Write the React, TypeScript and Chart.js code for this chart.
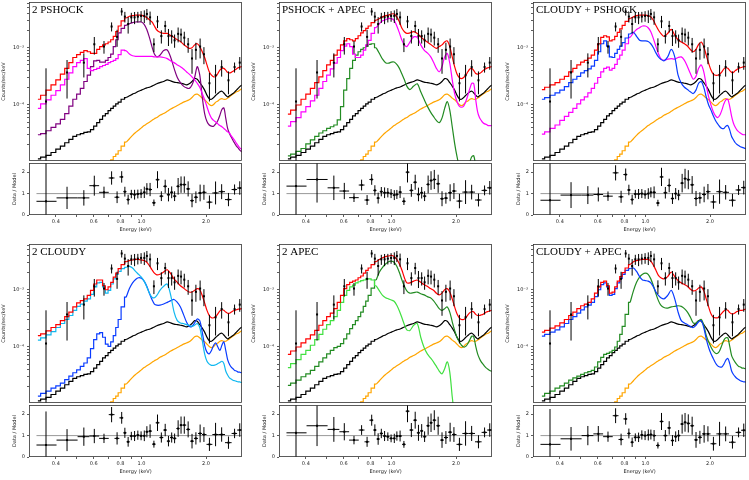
import { useEffect, useRef } from "react";
import { Chart, registerables } from "chart.js";

Chart.register(...registerables);

// energy grid of the folded model histograms (keV)
const modelEnergy = [
  0.33, 0.35, 0.37, 0.39, 0.41, 0.43, 0.45, 0.47, 0.49, 0.51, 0.53, 0.55, 0.57, 0.59, 0.61, 0.63, 0.65, 0.67, 0.69, 0.71, 0.73, 0.75, 0.77, 0.79,
  0.82, 0.85, 0.88, 0.91, 0.94, 0.97, 1.0, 1.03, 1.06, 1.09, 1.12, 1.15, 1.18,
  1.22, 1.27, 1.32, 1.37, 1.42, 1.47, 1.52, 1.57, 1.62, 1.67, 1.72, 1.77, 1.82, 1.87, 1.92, 1.97, 2.02, 2.07, 2.12, 2.17, 2.22, 2.27, 2.32, 2.37, 2.42, 2.47, 2.52, 2.57, 2.62, 2.67, 2.72, 2.77, 2.82, 2.87, 2.92, 2.96,
];
// below this energy the histogram bins are wide enough to show as steps
const STEP_LIMIT = 0.85;

// model curves, log10(counts/sec/keV)
const blackModel = [
  -4.94, -4.91, -4.88, -4.83, -4.77, -4.72, -4.66, -4.6, -4.55, -4.52, -4.5, -4.48, -4.47, -4.43, -4.37, -4.31, -4.25, -4.19, -4.15, -4.1, -4.06, -4.02, -3.98, -3.95,
  -3.9, -3.87, -3.84, -3.81, -3.79, -3.76, -3.74, -3.72, -3.7, -3.69, -3.67, -3.65, -3.63,
  -3.61, -3.59, -3.56, -3.58, -3.6, -3.61, -3.62, -3.63, -3.65, -3.63, -3.59, -3.54, -3.55, -3.61, -3.67, -3.74, -3.83, -3.89, -3.9, -3.87, -3.83, -3.8, -3.77, -3.76, -3.79, -3.83, -3.86, -3.84, -3.82, -3.8, -3.77, -3.74, -3.71, -3.68, -3.66, -3.65,
];
const orangeModel = [
  null, null, null, null, null, null, null, null, null, null, null, null, null, null, null, null, -5.22, -5.15, -5.08, -5.02, -4.96, -4.9, -4.86, -4.8,
  -4.72, -4.65, -4.59, -4.53, -4.48, -4.44, -4.4, -4.36, -4.33, -4.3, -4.27, -4.24, -4.22,
  -4.18, -4.15, -4.11, -4.07, -4.04, -4.01, -3.98, -3.95, -3.93, -3.91, -3.87, -3.82, -3.81, -3.84, -3.88, -3.91, -3.95, -3.99, -4.01, -3.99, -3.95, -3.93, -3.9, -3.89, -3.9, -3.9, -3.88, -3.86, -3.83, -3.81, -3.79, -3.77, -3.76, -3.74, -3.72, -3.71,
];

const total2Pshock = [
  -3.9, -3.83, -3.74, -3.65, -3.56, -3.46, -3.36, -3.26, -3.17, -3.12, -3.08, -3.05, -3.07, -3.1, -3.1, -3.03, -2.98, -2.95, -2.93, -2.9, -2.86, -2.8, -2.72, -2.62,
  -2.53, -2.48, -2.45, -2.44, -2.43, -2.43, -2.43, -2.45, -2.47, -2.51, -2.55, -2.62, -2.69,
  -2.73, -2.75, -2.75, -2.79, -2.82, -2.86, -2.89, -2.94, -2.98, -3.01, -3.0, -2.95, -2.93, -2.98, -3.07, -3.17, -3.3, -3.42, -3.48, -3.51, -3.5, -3.45, -3.39, -3.36, -3.36, -3.39, -3.43, -3.44, -3.43, -3.41, -3.39, -3.37, -3.35, -3.34, -3.33, -3.33,
];
const pshockA = [
  -4.06, -3.98, -3.91, -3.83, -3.75, -3.65, -3.55, -3.44, -3.33, -3.26, -3.22, -3.19, -3.36, -3.4, -3.38, -3.36, -3.33, -3.31, -3.29, -3.26, -3.24, -3.22, -3.19, -3.12,
  -3.04, -3.05, -3.11, -3.14, -3.15, -3.15, -3.15, -3.15, -3.15, -3.15, -3.15, -3.16, -3.16,
  -3.16, -3.17, -3.19, -3.23, -3.26, -3.3, -3.33, -3.37, -3.42, -3.46, -3.51, -3.56, -3.62, -3.69, -3.8, -3.91, -4.03, -4.15, -4.23, -4.27, -4.3, -4.33, -4.36, -4.38, -4.41, -4.44, -4.47, -4.49, -4.54, -4.58, -4.62, -4.67, -4.71, -4.75, -4.77, -4.8,
];
const pshockB = [
  -4.52, -4.5, -4.45, -4.39, -4.33, -4.25, -4.15, -4.02, -3.9, -3.81, -3.71, -3.59, -3.48, -3.33, -3.23, -3.22, -3.25, -3.25, -3.22, -3.17, -3.11, -2.98, -2.86, -2.74,
  -2.66, -2.61, -2.58, -2.56, -2.55, -2.55, -2.55, -2.59, -2.68, -2.82, -2.98, -3.11, -3.16,
  -3.13, -3.05, -3.04, -3.17, -3.36, -3.52, -3.61, -3.67, -3.7, -3.71, -3.65, -3.52, -3.33, -3.48, -3.86, -4.15, -4.29, -4.35, -4.37, -4.37, -4.33, -4.27, -4.18, -4.08, -4.05, -4.23, -4.41, -4.5, -4.56, -4.62, -4.67, -4.72, -4.75, -4.79, -4.81, -4.83,
];

const totalPshockApec = [
  -4.16, -4.09, -4.0, -3.9, -3.81, -3.71, -3.61, -3.51, -3.4, -3.3, -3.22, -3.13, -3.04, -2.95, -2.88, -2.84, -2.86, -2.88, -2.84, -2.79, -2.74, -2.7, -2.66, -2.62,
  -2.56, -2.52, -2.49, -2.46, -2.44, -2.43, -2.41, -2.41, -2.46, -2.55, -2.66, -2.72, -2.75,
  -2.74, -2.72, -2.75, -2.81, -2.86, -2.9, -2.94, -2.98, -3.01, -2.98, -2.95, -2.9, -2.88, -2.98, -3.16, -3.33, -3.46, -3.52, -3.54, -3.52, -3.48, -3.42, -3.37, -3.36, -3.4, -3.45, -3.46, -3.45, -3.43, -3.4, -3.38, -3.36, -3.35, -3.34, -3.33, -3.33,
];
const pshockC = [
  -4.37, -4.29, -4.22, -4.12, -4.03, -3.93, -3.83, -3.71, -3.59, -3.48, -3.37, -3.27, -3.17, -3.05, -2.97, -2.93, -2.98, -3.11, -3.17, -3.17, -3.13, -3.04, -2.95, -2.87,
  -2.75, -2.65, -2.58, -2.53, -2.51, -2.49, -2.49, -2.52, -2.62, -2.74, -2.87, -2.95, -2.98,
  -2.9, -2.81, -2.82, -2.95, -3.04, -3.09, -3.15, -3.25, -3.36, -3.42, -3.33, -3.16, -3.1, -3.27, -3.56, -3.8, -3.94, -4.02, -4.04, -4.02, -3.94, -3.83, -3.71, -3.62, -3.63, -3.91, -4.12, -4.22, -4.27, -4.31, -4.33, -4.34, -4.36, -4.36, -4.36, -4.36,
];
const apecA = [
  -4.89, -4.86, -4.81, -4.76, -4.68, -4.61, -4.55, -4.49, -4.45, -4.41, -4.38, -4.35, -4.26, -4.03, -3.74, -3.54, -3.36, -3.22, -3.13, -3.07, -3.03, -3.0, -2.97, -2.94,
  -2.93, -3.0, -3.1, -3.2, -3.26, -3.27, -3.25, -3.25, -3.29, -3.36, -3.46, -3.56, -3.67,
  -3.73, -3.67, -3.63, -3.77, -3.9, -4.02, -4.12, -4.2, -4.27, -4.31, -4.23, -4.06, -3.94, -4.09, -4.38, -4.67, -4.9, -5.08, -5.19, -5.25, -5.19, -5.11, -4.99, -4.9, -4.89, -5.08, -5.31, -5.43, null, null, null, null, null, null, null, null,
];

const totalCloudyPshock = [
  -3.73, -3.69, -3.65, -3.61, -3.55, -3.5, -3.42, -3.36, -3.3, -3.25, -3.22, -3.18, -3.13, -3.04, -2.93, -2.82, -2.79, -2.81, -2.88, -2.86, -2.8, -2.73, -2.67, -2.61,
  -2.54, -2.49, -2.46, -2.44, -2.43, -2.43, -2.43, -2.44, -2.46, -2.52, -2.61, -2.69, -2.75,
  -2.8, -2.75, -2.68, -2.78, -2.86, -2.9, -2.93, -2.97, -3.03, -3.07, -3.03, -2.94, -2.9, -2.98, -3.13, -3.27, -3.39, -3.46, -3.48, -3.48, -3.46, -3.42, -3.37, -3.35, -3.36, -3.4, -3.43, -3.43, -3.4, -3.38, -3.36, -3.35, -3.34, -3.33, -3.33, -3.32,
];
const cloudyA = [
  -3.9, -3.87, -3.83, -3.79, -3.74, -3.68, -3.61, -3.55, -3.5, -3.44, -3.4, -3.37, -3.32, -3.22, -3.07, -2.93, -2.88, -2.97, -3.16, -3.17, -3.1, -3.03, -2.97, -2.91,
  -2.83, -2.76, -2.73, -2.8, -2.87, -2.88, -2.88, -2.89, -2.93, -3.0, -3.09, -3.16, -3.2,
  -3.23, -3.16, -3.03, -3.16, -3.48, -3.62, -3.69, -3.73, -3.77, -3.8, -3.74, -3.62, -3.59, -3.69, -3.86, -4.0, -4.09, -4.19, -4.27, -4.33, -4.38, -4.41, -4.41, -4.37, -4.36, -4.44, -4.55, -4.61, -4.66, -4.69, -4.71, -4.73, -4.74, -4.75, -4.76, -4.77,
];
const pshockD = [
  -4.51, -4.47, -4.41, -4.35, -4.27, -4.2, -4.13, -4.06, -3.98, -3.91, -3.86, -3.79, -3.71, -3.62, -3.52, -3.42, -3.36, -3.34, -3.39, -3.36, -3.29, -3.2, -3.13, -3.04,
  -2.93, -2.82, -2.74, -2.68, -2.65, -2.62, -2.62, -2.65, -2.72, -2.84, -2.98, -3.1, -3.19,
  -3.22, -3.2, -3.19, -3.2, -3.17, -3.16, -3.22, -3.33, -3.45, -3.55, -3.5, -3.36, -3.3, -3.42, -3.65, -3.86, -4.0, -4.12, -4.19, -4.22, -4.18, -4.09, -3.98, -3.91, -3.9, -4.03, -4.2, -4.32, -4.39, -4.44, -4.47, -4.49, -4.51, -4.52, -4.52, -4.53,
];

const total2Cloudy = [
  -3.8, -3.77, -3.72, -3.66, -3.61, -3.54, -3.47, -3.39, -3.3, -3.23, -3.19, -3.16, -3.1, -3.01, -2.9, -2.83, -2.83, -2.93, -3.0, -2.95, -2.87, -2.78, -2.71, -2.63,
  -2.56, -2.51, -2.49, -2.48, -2.47, -2.47, -2.48, -2.49, -2.52, -2.58, -2.65, -2.71, -2.74,
  -2.73, -2.69, -2.65, -2.72, -2.81, -2.87, -2.93, -2.97, -3.01, -3.04, -3.04, -3.01, -2.98, -3.0, -3.1, -3.23, -3.36, -3.45, -3.49, -3.49, -3.47, -3.42, -3.37, -3.35, -3.36, -3.39, -3.41, -3.41, -3.39, -3.37, -3.36, -3.35, -3.34, -3.34, -3.33, -3.33,
];
const cloudyB = [
  -3.88, -3.84, -3.79, -3.73, -3.66, -3.59, -3.52, -3.45, -3.36, -3.29, -3.25, -3.2, -3.16, -3.08, -2.95, -2.88, -2.87, -2.95, -3.06, -3.01, -2.9, -2.81, -2.73, -2.68,
  -2.63, -2.61, -2.59, -2.62, -2.68, -2.73, -2.78, -2.85, -2.95, -3.06, -3.13, -3.14, -3.1,
  -3.01, -2.94, -2.9, -3.1, -3.39, -3.54, -3.58, -3.59, -3.61, -3.62, -3.64, -3.62, -3.59, -3.66, -3.88, -4.12, -4.25, -4.3, -4.32, -4.32, -4.31, -4.29, -4.27, -4.25, -4.29, -4.42, -4.49, -4.54, -4.56, -4.58, -4.59, -4.6, -4.61, -4.61, -4.62, -4.62,
];
const cloudyC = [
  -4.86, -4.81, -4.77, -4.72, -4.68, -4.63, -4.57, -4.51, -4.45, -4.4, -4.34, -4.28, -4.19, -4.03, -3.87, -3.77, -3.75, -3.83, -3.95, -3.99, -3.91, -3.8, -3.66, -3.52,
  -3.3, -3.13, -2.98, -2.88, -2.82, -2.79, -2.8, -2.85, -2.94, -3.06, -3.17, -3.25, -3.27,
  -3.27, -3.25, -3.22, -3.19, -3.17, -3.22, -3.3, -3.43, -3.56, -3.64, -3.64, -3.58, -3.51, -3.54, -3.74, -3.97, -4.09, -4.12, -4.06, -3.97, -3.93, -4.0, -4.06, -3.97, -3.91, -4.06, -4.22, -4.3, -4.35, -4.38, -4.41, -4.42, -4.44, -4.44, -4.45, -4.45,
];

const total2Apec = [
  -4.13, -4.07, -4.0, -3.93, -3.86, -3.79, -3.71, -3.62, -3.54, -3.47, -3.41, -3.33, -3.22, -3.1, -2.98, -2.91, -2.87, -2.85, -2.83, -2.79, -2.76, -2.71, -2.66, -2.62,
  -2.56, -2.51, -2.47, -2.44, -2.42, -2.41, -2.4, -2.42, -2.47, -2.55, -2.66, -2.79, -2.88,
  -2.88, -2.85, -2.83, -2.87, -2.91, -2.94, -2.98, -3.01, -3.06, -3.09, -3.06, -3.0, -2.98, -3.04, -3.16, -3.3, -3.42, -3.49, -3.52, -3.52, -3.49, -3.44, -3.4, -3.38, -3.39, -3.43, -3.45, -3.45, -3.44, -3.43, -3.41, -3.39, -3.38, -3.37, -3.36, -3.36,
];
const apecB = [
  -4.36, -4.29, -4.22, -4.13, -4.06, -3.97, -3.87, -3.78, -3.69, -3.61, -3.54, -3.47, -3.36, -3.22, -3.1, -3.01, -2.95, -2.92, -2.88, -2.86, -2.84, -2.83, -2.81, -2.81,
  -2.83, -2.93, -3.02, -3.1, -3.14, -3.16, -3.18, -3.2, -3.27, -3.37, -3.49, -3.61, -3.7,
  -3.71, -3.62, -3.59, -3.83, -4.01, -4.12, -4.19, -4.26, -4.34, -4.42, -4.47, -4.38, -4.26, -4.44, -4.87, -5.22, null, null, null, null, null, null, null, null, null, null, null, null, null, null, null, null, null, null, null, null,
];
const apecC = [
  -4.67, -4.63, -4.58, -4.52, -4.47, -4.41, -4.34, -4.26, -4.19, -4.12, -4.06, -4.01, -3.99, -3.94, -3.86, -3.77, -3.68, -3.61, -3.54, -3.47, -3.39, -3.29, -3.2, -3.1,
  -2.97, -2.83, -2.69, -2.61, -2.55, -2.51, -2.5, -2.52, -2.59, -2.7, -2.83, -2.94, -3.02,
  -3.06, -3.05, -3.04, -3.07, -3.09, -3.12, -3.14, -3.19, -3.26, -3.33, -3.36, -3.33, -3.3, -3.39, -3.56, -3.71, -3.83, -3.91, -3.97, -4.0, -3.99, -3.94, -3.87, -3.81, -3.83, -3.99, -4.12, -4.2, -4.26, -4.3, -4.34, -4.37, -4.39, -4.41, -4.42, -4.43,
];

const totalCloudyApec = [
  -3.74, -3.71, -3.67, -3.63, -3.58, -3.52, -3.45, -3.39, -3.33, -3.28, -3.25, -3.22, -3.16, -3.06, -2.95, -2.87, -2.85, -2.93, -3.06, -3.04, -2.95, -2.85, -2.77, -2.7,
  -2.62, -2.56, -2.51, -2.49, -2.48, -2.47, -2.47, -2.47, -2.5, -2.57, -2.66, -2.75, -2.79,
  -2.81, -2.77, -2.69, -2.77, -2.84, -2.88, -2.91, -2.94, -2.99, -3.02, -3.01, -2.97, -2.95, -3.02, -3.16, -3.3, -3.42, -3.48, -3.49, -3.49, -3.45, -3.41, -3.37, -3.35, -3.36, -3.4, -3.42, -3.42, -3.4, -3.38, -3.37, -3.36, -3.36, -3.35, -3.34, -3.34,
];
const cloudyD = [
  -3.81, -3.78, -3.74, -3.7, -3.65, -3.59, -3.52, -3.47, -3.41, -3.35, -3.3, -3.27, -3.22, -3.12, -3.0, -2.91, -2.88, -2.95, -3.1, -3.08, -2.98, -2.88, -2.8, -2.73,
  -2.66, -2.63, -2.62, -2.68, -2.77, -2.83, -2.84, -2.85, -2.88, -2.95, -3.04, -3.1, -3.14,
  -3.16, -3.1, -3.01, -3.16, -3.39, -3.54, -3.58, -3.61, -3.64, -3.66, -3.62, -3.56, -3.54, -3.66, -3.86, -4.01, -4.12, -4.2, -4.28, -4.33, -4.35, -4.35, -4.3, -4.23, -4.2, -4.29, -4.42, -4.48, -4.52, -4.55, -4.57, -4.59, -4.6, -4.61, -4.61, -4.62,
];
const apecD = [
  -4.86, -4.81, -4.77, -4.72, -4.68, -4.63, -4.58, -4.54, -4.51, -4.48, -4.45, -4.43, -4.41, -4.35, -4.26, -4.18, -4.13, -4.11, -4.09, -4.06, -4.0, -3.9, -3.78, -3.64,
  -3.43, -3.22, -3.02, -2.87, -2.78, -2.73, -2.71, -2.73, -2.81, -2.93, -3.07, -3.19, -3.27,
  -3.31, -3.32, -3.3, -3.29, -3.28, -3.29, -3.33, -3.39, -3.48, -3.58, -3.58, -3.54, -3.52, -3.62, -3.8, -3.91, -4.0, -4.07, -4.11, -4.11, -4.06, -3.97, -3.88, -3.84, -3.84, -3.99, -4.15, -4.22, -4.27, -4.31, -4.34, -4.35, -4.37, -4.37, -4.38, -4.38,
];

// grouped spectrum (same in every panel)
const dataEnergy = [
  0.36, 0.451, 0.54, 0.604, 0.67, 0.727, 0.771, 0.81, 0.838, 0.868, 0.898, 0.93, 0.963, 0.997, 1.032, 1.061, 1.098, 1.144, 1.189,
  1.239, 1.291, 1.337, 1.384, 1.428, 1.483, 1.53, 1.584, 1.651, 1.721, 1.794, 1.877, 1.955, 2.074, 2.215, 2.364, 2.543, 2.715, 2.87,
];
const binEdges = [
  0.325, 0.403, 0.505, 0.573, 0.636, 0.705, 0.75, 0.79, 0.824, 0.853, 0.883, 0.914, 0.946, 0.98, 1.015, 1.046, 1.08, 1.121, 1.166, 1.214,
  1.265, 1.314, 1.36, 1.406, 1.455, 1.507, 1.557, 1.617, 1.686, 1.757, 1.835, 1.916, 2.01, 2.14, 2.29, 2.45, 2.63, 2.79, 2.94,
];
const dataCounts = [
  1.15e-4, 3.7e-4, 5.5e-4, 1.15e-3, 1.05e-3, 2.35e-3, 1.55e-3, 4.3e-3, 3.5e-3, 2.6e-3, 3.4e-3, 3.4e-3, 3.5e-3, 3.6e-3, 3.6e-3, 3.9e-3, 3.4e-3, 1.15e-3, 2.9e-3,
  1.6e-3, 2.4e-3, 1.6e-3, 1.6e-3, 1.35e-3, 1.75e-3, 1.7e-3, 1.5e-3, 1.15e-3, 6.5e-4, 9.2e-4, 1.05e-3, 7.7e-4, 2.4e-4, 3.3e-4, 4.6e-4, 2.7e-4, 4.6e-4, 5.5e-4,
];
const fracError = [
  2.8, 0.65, 0.45, 0.34, 0.25, 0.18, 0.33, 0.15, 0.21, 0.32, 0.2, 0.24, 0.21, 0.21, 0.25, 0.22, 0.26, 0.27, 0.24,
  0.26, 0.23, 0.33, 0.26, 0.26, 0.29, 0.27, 0.27, 0.29, 0.46, 0.33, 0.38, 0.33, 0.52, 0.52, 0.32, 0.43, 0.2, 0.25,
];

// data / model
const ratio2Pshock = [0.64, 0.8, 0.8, 1.37, 1.06, 1.73, 0.83, 1.78, 1.09, 0.72, 0.98, 0.95, 0.98, 1.0, 1.06, 1.22, 1.19, 0.57, 1.65, 0.88, 1.34, 0.95, 1.06, 0.88, 1.34, 1.42, 1.42, 1.22, 0.67, 0.83, 1.03, 1.06, 0.6, 1.03, 1.09, 0.72, 1.19, 1.26];
const ratioPshockApec = [1.35, 1.66, 1.27, 1.12, 0.81, 1.4, 0.7, 1.66, 1.15, 0.79, 1.09, 1.04, 1.04, 1.0, 0.93, 0.96, 1.07, 0.64, 2.0, 1.15, 1.53, 0.96, 1.04, 0.88, 1.43, 1.61, 1.66, 1.46, 0.76, 0.79, 1.04, 1.12, 0.65, 1.07, 1.07, 0.7, 1.15, 1.27];
const ratioCloudyPshock = [0.69, 0.93, 0.93, 0.96, 0.88, 1.97, 0.85, 1.89, 1.17, 0.72, 0.98, 0.98, 1.0, 0.96, 1.0, 1.06, 1.06, 0.56, 1.78, 1.04, 1.38, 0.77, 1.0, 0.93, 1.49, 1.7, 1.65, 1.41, 0.77, 0.8, 0.96, 1.09, 0.61, 1.09, 1.06, 0.69, 1.17, 1.28];
const ratio2Cloudy = [0.56, 0.79, 0.95, 0.98, 0.87, 1.98, 0.87, 1.83, 1.13, 0.71, 0.98, 0.98, 1.02, 0.99, 0.99, 1.18, 1.21, 0.6, 1.6, 0.91, 1.26, 0.74, 0.91, 0.87, 1.33, 1.49, 1.49, 1.29, 0.74, 0.87, 1.1, 1.05, 0.59, 1.05, 1.05, 0.67, 1.1, 1.26];
const ratio2Apec = [1.13, 1.46, 1.29, 1.18, 0.79, 1.26, 0.71, 1.72, 1.26, 0.84, 1.1, 0.98, 0.95, 0.87, 0.87, 0.98, 0.98, 0.59, 2.14, 1.26, 1.72, 1.13, 1.22, 0.95, 1.46, 1.6, 1.72, 1.46, 0.79, 0.91, 1.16, 1.05, 0.59, 1.1, 1.1, 0.71, 1.15, 1.26];
const ratioCloudyApec = [0.59, 0.85, 1.0, 1.08, 0.95, 1.93, 0.82, 1.78, 1.1, 0.69, 0.92, 0.92, 1.03, 1.0, 1.03, 1.05, 1.0, 0.54, 1.66, 1.0, 1.36, 0.77, 0.95, 1.0, 1.54, 1.62, 1.57, 1.46, 0.8, 0.92, 1.08, 1.08, 0.62, 1.08, 1.08, 0.69, 1.15, 1.25];

const energyTicks = [0.4, 0.5, 0.6, 0.7, 0.8, 0.9, 1, 2];
const energyLabelled = [0.4, 0.6, 0.8, 1, 2];
const countTicks = [2e-5, 3e-5, 4e-5, 5e-5, 6e-5, 7e-5, 8e-5, 9e-5, 1e-4, 2e-4, 3e-4, 4e-4, 5e-4, 6e-4, 7e-4, 8e-4, 9e-4, 1e-3, 2e-3, 3e-3, 4e-3, 5e-3, 6e-3];
const countLabels: [number, string][] = [[1e-4, "10⁻⁴"], [1e-3, "10⁻³"]];
const ratioTicks = [0, 1, 2];

const panels = [
  { title: "2 PSHOCK", total: total2Pshock, parts: [[pshockA, "#ff00ff"], [pshockB, "#800080"]], ratio: ratio2Pshock, col: 0, row: 0 },
  { title: "PSHOCK + APEC", total: totalPshockApec, parts: [[pshockC, "#ff00ff"], [apecA, "#228b22"]], ratio: ratioPshockApec, col: 1, row: 0 },
  { title: "CLOUDY + PSHOCK", total: totalCloudyPshock, parts: [[cloudyA, "#0a3cff"], [pshockD, "#ff00ff"]], ratio: ratioCloudyPshock, col: 2, row: 0 },
  { title: "2 CLOUDY", total: total2Cloudy, parts: [[cloudyB, "#10b8f0"], [cloudyC, "#0a3cff"]], ratio: ratio2Cloudy, col: 0, row: 1 },
  { title: "2 APEC", total: total2Apec, parts: [[apecB, "#40e040"], [apecC, "#228b22"]], ratio: ratio2Apec, col: 1, row: 1 },
  { title: "CLOUDY + APEC", total: totalCloudyApec, parts: [[cloudyD, "#0a3cff"], [apecD, "#228b22"]], ratio: ratioCloudyApec, col: 2, row: 1 },
];

const E_MIN = 0.325;
const E_MAX = 2.94;
const C_MIN = 1.05e-5;
const C_MAX = 6.3e-3;

const AX_W = 213;
const MAIN_H = 159;
const RATIO_H = 52;
const MAIN_YW = 29;
const RATIO_YW = 18;
const X_H = 20;
const colLeft = [29, 279, 533];
const mainTop = [2, 244];
const ratioTop = [163, 405];

const SANS = "'DejaVu Sans', sans-serif";
const tickFont = { family: SANS, size: 5 };

// one model curve: a staircase where the bins are wide, a plain line above
function modelLines(values: (number | null)[], color: string) {
  const pts = modelEnergy.map((e, i) => ({ x: e, y: values[i] === null ? null : Math.pow(10, values[i] as number) }));
  const style = { borderColor: color, borderWidth: 1.2, pointRadius: 0, fill: false };
  return [
    { ...style, data: pts.filter((pt) => pt.x <= STEP_LIMIT), stepped: "middle" },
    { ...style, data: pts.filter((pt) => pt.x >= STEP_LIMIT), tension: 0.3 },
  ];
}

const framePlugin = {
  id: "frame",
  afterDraw(chart: any) {
    const { ctx, chartArea: a } = chart;
    ctx.save();
    ctx.strokeStyle = "#333";
    ctx.lineWidth = 0.8;
    ctx.strokeRect(a.left + 0.4, a.top + 0.4, a.right - a.left - 0.8, a.bottom - a.top - 0.8);
    ctx.restore();
  },
};

type Bar = { x: number; y: number; yLo: number; yHi: number; xLo?: number; xHi?: number };

function errorBars(bars: Bar[]) {
  return {
    id: "errorBars",
    afterDatasetsDraw(chart: any) {
      const { ctx, chartArea: a, scales } = chart;
      ctx.save();
      ctx.beginPath();
      ctx.rect(a.left, a.top, a.right - a.left, a.bottom - a.top);
      ctx.clip();
      ctx.strokeStyle = "#000";
      ctx.fillStyle = "#000";
      ctx.lineWidth = 1;
      bars.forEach((b) => {
        const px = scales.x.getPixelForValue(b.x);
        const py = scales.y.getPixelForValue(b.y);
        ctx.beginPath();
        ctx.moveTo(px, scales.y.getPixelForValue(b.yHi));
        ctx.lineTo(px, scales.y.getPixelForValue(b.yLo));
        if (b.xLo !== undefined && b.xHi !== undefined) {
          ctx.moveTo(scales.x.getPixelForValue(b.xLo), py);
          ctx.lineTo(scales.x.getPixelForValue(b.xHi), py);
        }
        ctx.stroke();
        ctx.fillRect(px - 1, py - 1, 2, 2);
      });
      ctx.restore();
    },
  };
}

function panelTitle(text: string) {
  return {
    id: "panelTitle",
    afterDraw(chart: any) {
      const { ctx, chartArea: a } = chart;
      ctx.save();
      ctx.font = "11px 'Liberation Serif', serif";
      ctx.fillStyle = "#000";
      ctx.textBaseline = "top";
      ctx.fillText(text, a.left + 3, a.top + 3);
      ctx.restore();
    },
  };
}

const tickGrid = { display: true, drawOnChartArea: false, drawTicks: true, tickLength: 2, tickColor: "#333", lineWidth: 0.8 };

function SpectrumPanel({ p }: { p: (typeof panels)[number] }) {
  const mainRef = useRef<HTMLCanvasElement | null>(null);
  const ratioRef = useRef<HTMLCanvasElement | null>(null);

  useEffect(() => {
    if (!mainRef.current || !ratioRef.current) return;

    const countBars = dataEnergy.map((e, i) => ({
      x: e,
      y: dataCounts[i],
      yLo: Math.max(dataCounts[i] * (1 - fracError[i]), C_MIN / 10),
      yHi: dataCounts[i] * (1 + fracError[i]),
    }));
    const ratioBars = dataEnergy.map((e, i) => ({
      x: e,
      y: p.ratio[i],
      yLo: p.ratio[i] * (1 - fracError[i]),
      yHi: p.ratio[i] * (1 + fracError[i]),
      xLo: binEdges[i],
      xHi: binEdges[i + 1],
    }));

    const main = new Chart(mainRef.current, {
      type: "line",
      data: {
        datasets: [
          ...modelLines(p.total, "#ff0000"),
          ...p.parts.flatMap(([v, c]) => modelLines(v as number[], c as string)),
          ...modelLines(blackModel, "#000000"),
          ...modelLines(orangeModel, "#ffa500"),
        ] as any,
      },
      options: {
        animation: false,
        responsive: false,
        maintainAspectRatio: false,
        events: [],
        layout: { padding: 0, autoPadding: false },
        plugins: { legend: { display: false }, tooltip: { enabled: false } },
        scales: {
          x: { type: "logarithmic", min: E_MIN, max: E_MAX, display: false },
          y: {
            type: "logarithmic",
            min: C_MIN,
            max: C_MAX,
            afterBuildTicks: (s: any) => {
              s.ticks = countTicks.map((v) => ({ value: v }));
            },
            afterFit: (s: any) => {
              s.width = MAIN_YW;
              s.paddingTop = 0;
              s.paddingBottom = 0;
            },
            ticks: {
              autoSkip: false,
              padding: 3,
              color: "#222",
              font: tickFont,
              callback: (v: any) => {
                const hit = countLabels.find(([t]) => Math.abs(Number(v) / t - 1) < 1e-6);
                return hit ? hit[1] : "";
              },
            },
            grid: tickGrid,
            border: { display: false },
            title: { display: true, text: "Counts/sec/keV", color: "#222", font: tickFont, padding: { top: 1, bottom: 0 } },
          },
        },
      } as any,
      plugins: [errorBars(countBars), framePlugin, panelTitle(p.title)] as any,
    });

    const ratio = new Chart(ratioRef.current, {
      type: "line",
      data: {
        datasets: [
          {
            data: [
              { x: E_MIN, y: 1 },
              { x: E_MAX, y: 1 },
            ],
            borderColor: "#999999",
            borderWidth: 1,
            pointRadius: 0,
          },
        ],
      },
      options: {
        animation: false,
        responsive: false,
        maintainAspectRatio: false,
        events: [],
        layout: { padding: 0, autoPadding: false },
        plugins: { legend: { display: false }, tooltip: { enabled: false } },
        scales: {
          x: {
            type: "logarithmic",
            min: E_MIN,
            max: E_MAX,
            afterBuildTicks: (s: any) => {
              s.ticks = energyTicks.map((v) => ({ value: v }));
            },
            afterFit: (s: any) => {
              s.height = X_H;
              s.paddingLeft = 0;
              s.paddingRight = 0;
            },
            ticks: {
              autoSkip: false,
              maxRotation: 0,
              padding: 2,
              color: "#222",
              font: tickFont,
              callback: (v: any) => (energyLabelled.some((t) => Math.abs(Number(v) - t) < 1e-6) ? Number(v).toFixed(1) : ""),
            },
            grid: tickGrid,
            border: { display: false },
            title: { display: true, text: "Energy (keV)", color: "#222", font: tickFont, padding: { top: 0, bottom: 2 } },
          },
          y: {
            type: "linear",
            min: 0,
            max: 2.43,
            afterBuildTicks: (s: any) => {
              s.ticks = ratioTicks.map((v) => ({ value: v }));
            },
            afterFit: (s: any) => {
              s.width = RATIO_YW;
              s.paddingTop = 0;
              s.paddingBottom = 0;
            },
            ticks: { autoSkip: false, padding: 2, color: "#222", font: tickFont, callback: (v: any) => String(v) },
            grid: tickGrid,
            border: { display: false },
            title: { display: true, text: "Data / Model", color: "#222", font: tickFont, padding: { top: 1, bottom: 0 } },
          },
        },
      } as any,
      plugins: [errorBars(ratioBars), framePlugin] as any,
    });

    return () => {
      main.destroy();
      ratio.destroy();
    };
  }, [p]);

  const left = colLeft[p.col];
  return (
    <>
      <canvas
        ref={mainRef}
        width={MAIN_YW + AX_W}
        height={MAIN_H}
        style={{ position: "absolute", left: left - MAIN_YW, top: mainTop[p.row] }}
      />
      <canvas
        ref={ratioRef}
        width={RATIO_YW + AX_W}
        height={RATIO_H + X_H}
        style={{ position: "absolute", left: left - RATIO_YW, top: ratioTop[p.row] }}
      />
    </>
  );
}

export default function App() {
  return (
    <div style={{ position: "absolute", left: 0, top: 0, width: 749, height: 480, background: "#fff", overflow: "hidden" }}>
      {panels.map((p) => (
        <SpectrumPanel key={p.title} p={p} />
      ))}
    </div>
  );
}
